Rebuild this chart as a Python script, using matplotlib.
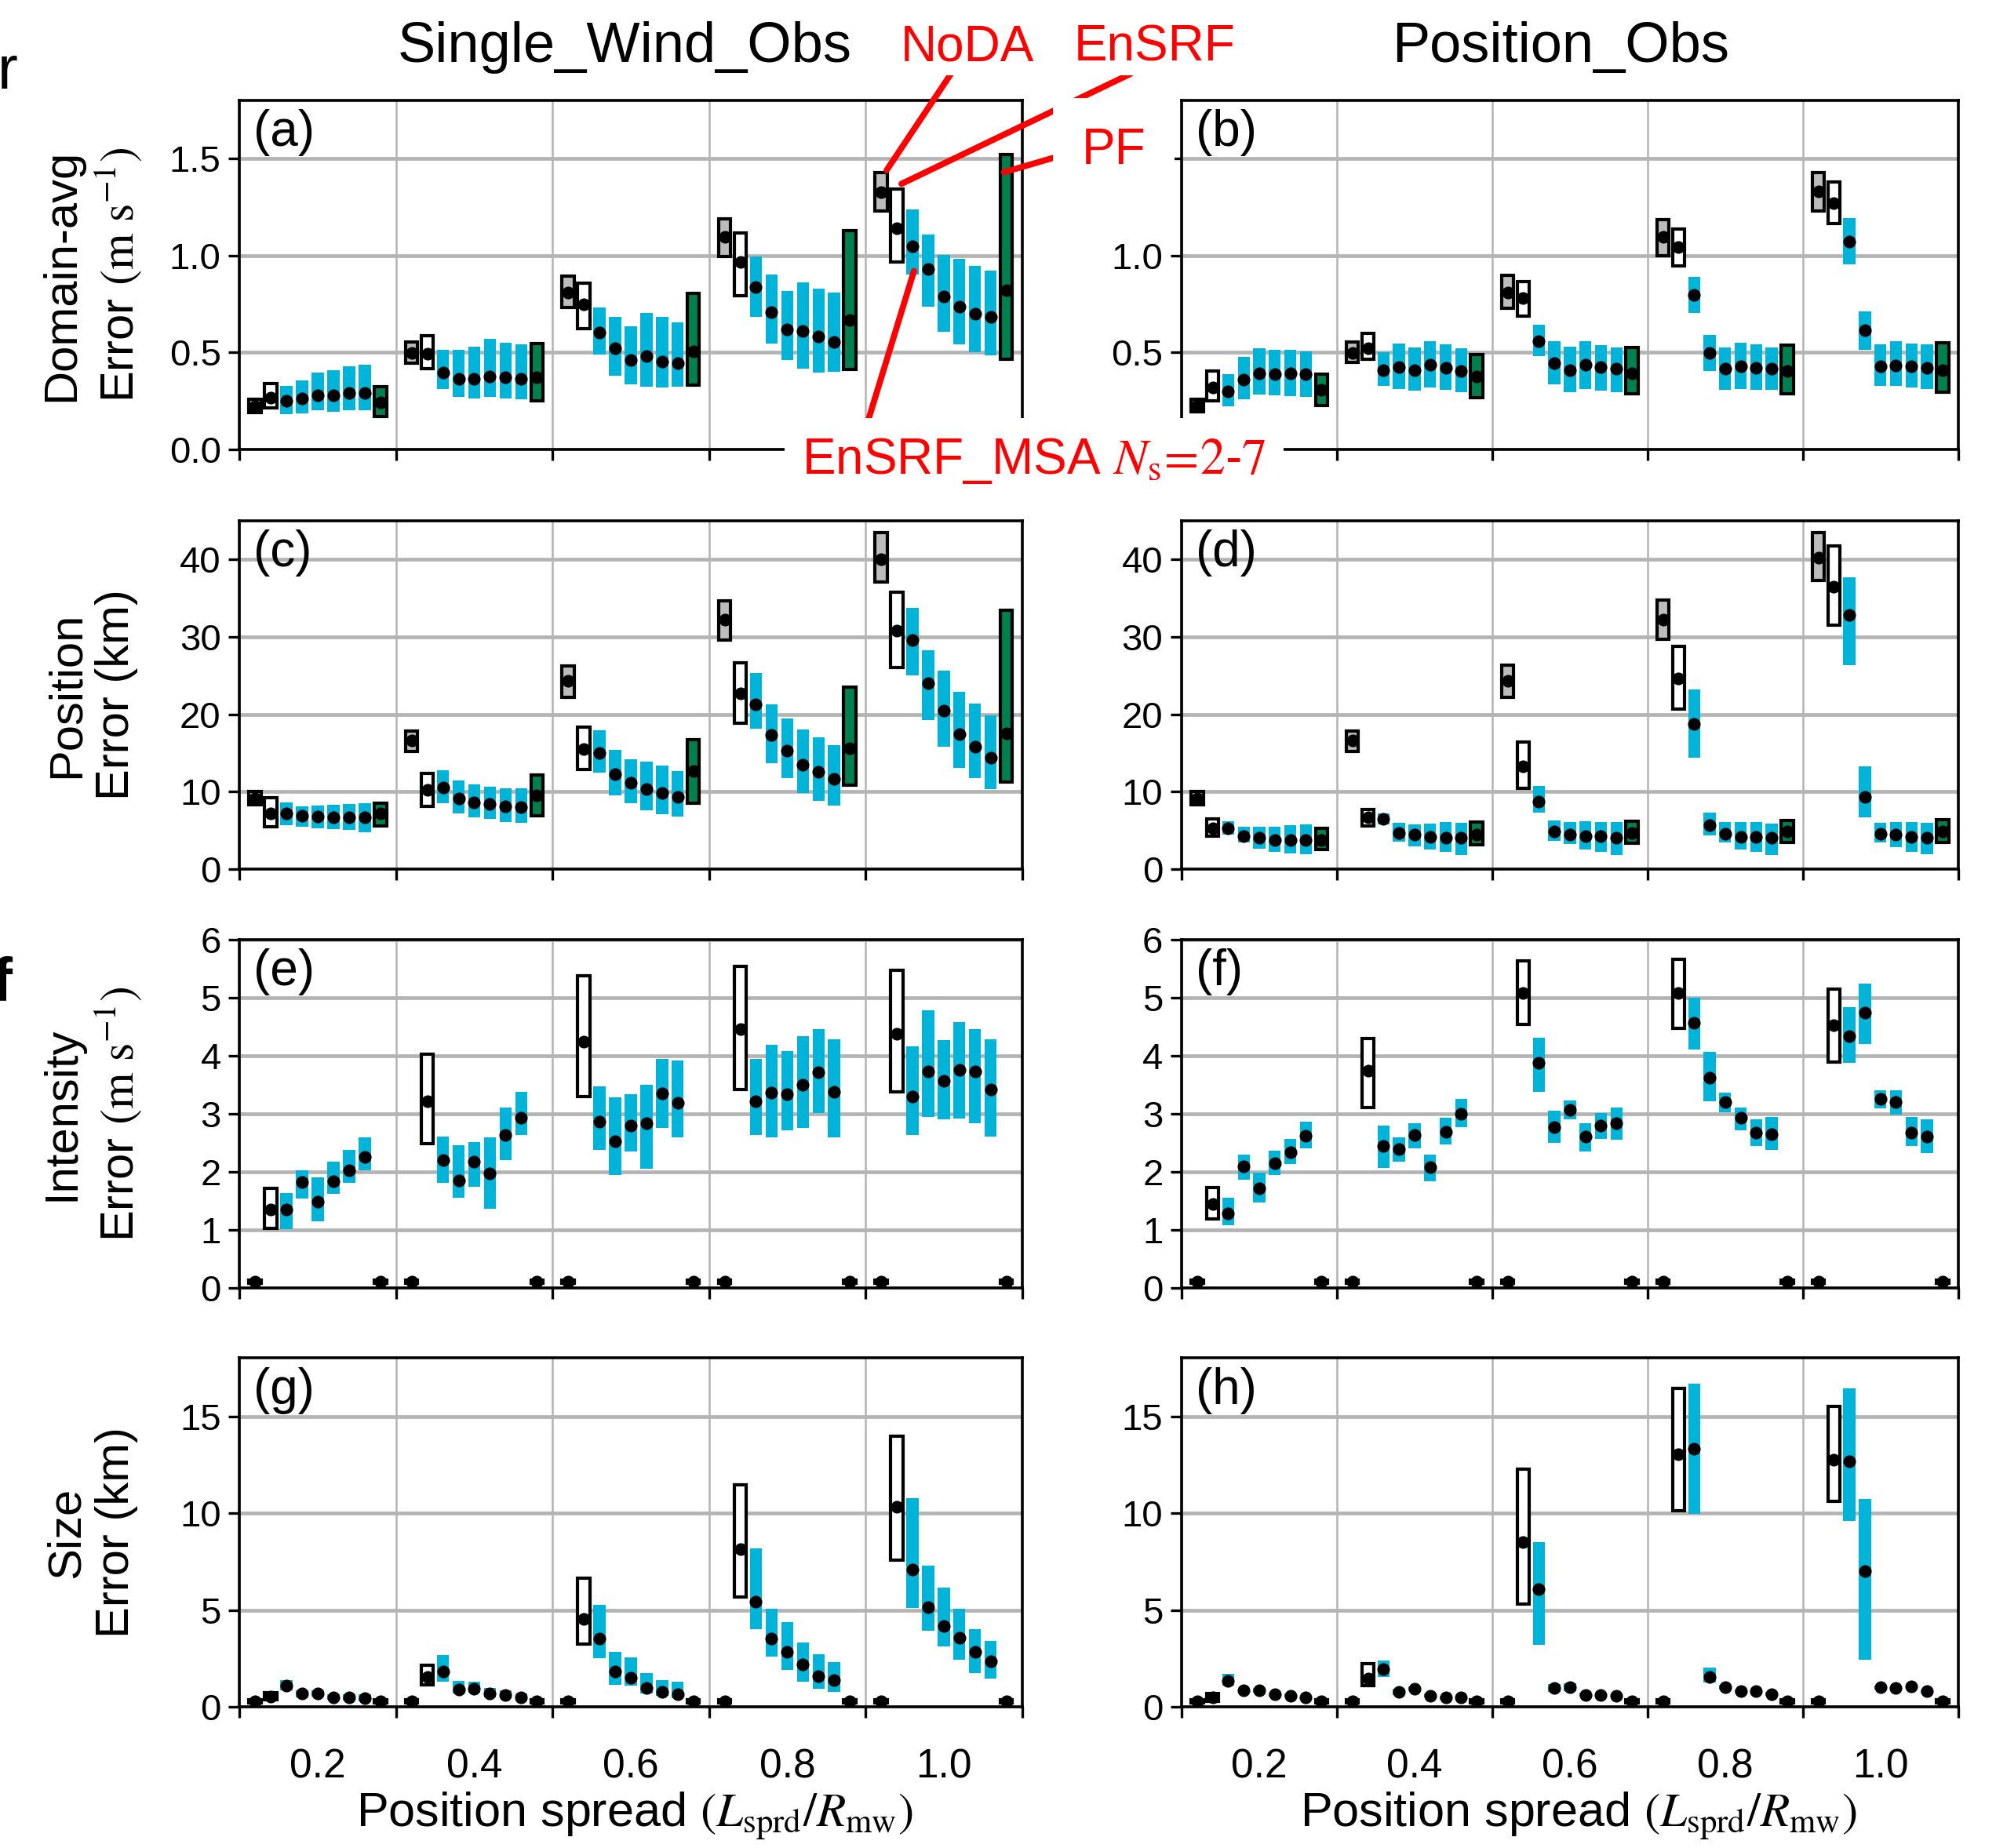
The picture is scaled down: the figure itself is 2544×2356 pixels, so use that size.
"""
plot.py - error summary of EnSRF / EnSRF_MSA / PF versus position spread.
"""

import numpy as np
import matplotlib
matplotlib.use("Agg")
import matplotlib.pyplot as plt

plt.rcParams["font.family"] = ["Liberation Sans", "DejaVu Sans"]
plt.rcParams["mathtext.fontset"] = "stix"


# ---------------------------------------------------------------------------
# Data (one row per position spread; slots: NoDA, EnSRF, MSA Ns=2..7, PF)
# ---------------------------------------------------------------------------

spreads = [0.2, 0.4, 0.6, 0.8, 1.0]
spread_labels = ["0.2", "0.4", "0.6", "0.8", "1.0"]
methods = ["NoDA", "EnSRF", "Ns2", "Ns3", "Ns4", "Ns5", "Ns6", "Ns7", "PF"]

# (a) domain-avg error, Single_Wind_Obs
a_mean = [[0.221, 0.268, 0.249, 0.263, 0.278, 0.278, 0.289, 0.291, 0.240],
          [0.498, 0.492, 0.394, 0.365, 0.362, 0.376, 0.371, 0.365, 0.371],
          [0.807, 0.747, 0.603, 0.520, 0.461, 0.479, 0.453, 0.445, 0.507],
          [1.098, 0.968, 0.838, 0.708, 0.620, 0.611, 0.580, 0.554, 0.668],
          [1.327, 1.141, 1.048, 0.932, 0.789, 0.736, 0.700, 0.685, 0.820]]
a_lo = [[0.190, 0.213, 0.182, 0.186, 0.200, 0.195, 0.201, 0.201, 0.167],
        [0.445, 0.418, 0.309, 0.272, 0.264, 0.271, 0.264, 0.260, 0.252],
        [0.730, 0.623, 0.490, 0.380, 0.337, 0.322, 0.317, 0.322, 0.332],
        [0.994, 0.793, 0.685, 0.546, 0.461, 0.414, 0.394, 0.399, 0.411],
        [1.229, 0.968, 0.901, 0.736, 0.608, 0.541, 0.503, 0.484, 0.465]]
a_hi = [[0.257, 0.339, 0.325, 0.356, 0.396, 0.408, 0.427, 0.436, 0.322],
        [0.554, 0.588, 0.513, 0.513, 0.530, 0.571, 0.551, 0.543, 0.546],
        [0.894, 0.857, 0.733, 0.685, 0.636, 0.705, 0.682, 0.656, 0.804],
        [1.188, 1.118, 0.993, 0.901, 0.816, 0.861, 0.827, 0.809, 1.129],
        [1.430, 1.345, 1.237, 1.110, 1.002, 0.983, 0.948, 0.922, 1.520]]

# (b) domain-avg error, Position_Obs
b_mean = [[0.226, 0.319, 0.298, 0.360, 0.391, 0.388, 0.391, 0.388, 0.306],
          [0.495, 0.523, 0.407, 0.425, 0.407, 0.435, 0.422, 0.404, 0.376],
          [0.809, 0.781, 0.558, 0.445, 0.407, 0.438, 0.425, 0.414, 0.391],
          [1.095, 1.045, 0.796, 0.495, 0.414, 0.430, 0.422, 0.414, 0.404],
          [1.330, 1.270, 1.072, 0.615, 0.427, 0.433, 0.430, 0.422, 0.407]]
b_lo = [[0.193, 0.252, 0.221, 0.260, 0.283, 0.278, 0.275, 0.272, 0.226],
        [0.448, 0.464, 0.325, 0.309, 0.302, 0.317, 0.306, 0.294, 0.268],
        [0.728, 0.688, 0.479, 0.334, 0.294, 0.309, 0.302, 0.294, 0.286],
        [0.999, 0.945, 0.705, 0.404, 0.306, 0.311, 0.306, 0.306, 0.288],
        [1.231, 1.164, 0.956, 0.515, 0.326, 0.326, 0.317, 0.309, 0.295]]
b_hi = [[0.260, 0.402, 0.388, 0.476, 0.523, 0.515, 0.513, 0.504, 0.387],
        [0.554, 0.600, 0.503, 0.546, 0.526, 0.558, 0.543, 0.523, 0.489],
        [0.897, 0.867, 0.643, 0.558, 0.530, 0.558, 0.538, 0.526, 0.527],
        [1.184, 1.138, 0.891, 0.589, 0.527, 0.551, 0.541, 0.527, 0.538],
        [1.427, 1.378, 1.195, 0.713, 0.543, 0.558, 0.546, 0.543, 0.551]]

# (c) position error, Single_Wind_Obs
c_mean = [[9.17, 7.25, 7.25, 6.90, 6.80, 6.75, 6.70, 6.75, 7.18],
          [16.58, 10.20, 10.60, 9.10, 8.66, 8.43, 8.16, 8.02, 9.50],
          [24.33, 15.50, 15.00, 12.23, 11.19, 10.35, 9.88, 9.37, 12.64],
          [32.19, 22.75, 21.30, 17.29, 15.34, 13.48, 12.57, 11.63, 15.57],
          [40.04, 30.77, 29.59, 24.00, 20.46, 17.39, 15.84, 14.39, 17.53]]
c_lo = [[8.36, 5.50, 5.73, 5.53, 5.33, 5.22, 5.06, 4.82, 5.56],
        [15.17, 8.16, 8.50, 7.25, 6.67, 6.47, 6.13, 5.97, 6.88],
        [22.24, 12.90, 12.47, 9.50, 8.50, 7.58, 7.15, 6.84, 8.56],
        [29.60, 18.87, 18.10, 13.65, 11.80, 9.84, 8.86, 8.19, 10.89],
        [37.07, 26.02, 25.04, 19.21, 15.84, 13.04, 11.80, 10.38, 11.29]]
c_hi = [[10.00, 9.20, 8.66, 8.16, 8.26, 8.36, 8.46, 8.56, 8.53],
        [17.86, 12.37, 12.80, 11.46, 11.00, 10.68, 10.45, 10.45, 12.13],
        [26.29, 18.37, 17.93, 15.44, 14.22, 13.92, 13.41, 12.71, 16.75],
        [34.65, 26.69, 25.35, 21.30, 19.48, 18.03, 17.05, 16.00, 23.49],
        [43.48, 35.79, 33.70, 28.24, 25.62, 22.92, 21.37, 19.89, 33.47]]

# (d) position error, Position_Obs
d_mean = [[9.17, 5.33, 5.29, 4.31, 4.04, 3.81, 3.81, 3.77, 3.77],
          [16.58, 6.67, 6.50, 4.65, 4.45, 4.21, 4.04, 4.04, 4.48],
          [24.33, 13.25, 8.76, 4.89, 4.48, 4.28, 4.28, 4.04, 4.72],
          [32.19, 24.67, 18.77, 5.73, 4.55, 4.21, 4.15, 4.04, 4.89],
          [40.18, 36.50, 32.86, 9.34, 4.62, 4.45, 4.21, 4.11, 4.89]]
d_lo = [[8.33, 4.28, 4.45, 3.44, 2.70, 2.26, 2.02, 1.92, 2.53],
        [15.17, 5.63, 5.83, 3.54, 2.93, 2.53, 2.26, 1.85, 3.13],
        [22.24, 10.45, 7.35, 3.71, 3.27, 2.53, 2.26, 1.85, 3.37],
        [29.66, 20.63, 14.39, 4.38, 3.44, 2.53, 2.26, 1.85, 3.47],
        [37.24, 31.51, 26.39, 6.67, 3.47, 2.86, 2.26, 1.92, 3.44]]
d_hi = [[10.00, 6.47, 6.20, 5.53, 5.53, 5.53, 5.73, 5.83, 5.33],
        [17.86, 7.75, 7.21, 6.00, 5.80, 5.90, 6.13, 6.00, 6.07],
        [26.36, 16.45, 10.79, 6.34, 6.07, 6.24, 6.13, 6.07, 6.24],
        [34.71, 28.75, 23.19, 7.31, 6.07, 6.13, 6.13, 5.90, 6.30],
        [43.48, 41.73, 37.65, 13.31, 6.00, 6.13, 6.13, 6.00, 6.40]]

# (e) intensity error, Single_Wind_Obs
e_mean = [[0.11, 1.35, 1.35, 1.82, 1.48, 1.84, 2.02, 2.25, 0.11],
          [0.11, 3.21, 2.20, 1.85, 2.17, 1.97, 2.63, 2.93, 0.11],
          [0.11, 4.24, 2.86, 2.53, 2.80, 2.83, 3.35, 3.19, 0.11],
          [0.11, 4.45, 3.22, 3.36, 3.34, 3.50, 3.71, 3.38, 0.11],
          [0.11, 4.38, 3.29, 3.73, 3.57, 3.75, 3.73, 3.41, 0.11]]
e_lo = [[0.08, 1.03, 1.02, 1.54, 1.15, 1.62, 1.81, 2.03, 0.08],
        [0.08, 2.49, 1.81, 1.56, 1.74, 1.37, 2.20, 2.63, 0.08],
        [0.08, 3.30, 2.38, 1.94, 2.35, 2.05, 2.76, 2.59, 0.08],
        [0.08, 3.42, 2.64, 2.59, 2.72, 2.76, 3.01, 2.59, 0.08],
        [0.08, 3.37, 2.64, 2.95, 2.90, 2.92, 2.83, 2.60, 0.08]]
e_hi = [[0.14, 1.71, 1.64, 2.03, 1.90, 2.18, 2.38, 2.59, 0.14],
        [0.14, 4.02, 2.61, 2.46, 2.51, 2.59, 3.10, 3.38, 0.14],
        [0.14, 5.37, 3.47, 3.28, 3.34, 3.50, 3.94, 3.91, 0.14],
        [0.14, 5.54, 3.94, 4.18, 4.08, 4.33, 4.46, 4.28, 0.14],
        [0.14, 5.47, 4.16, 4.78, 4.27, 4.58, 4.46, 4.28, 0.14]]

# (f) intensity error, Position_Obs
f_mean = [[0.11, 1.45, 1.29, 2.09, 1.72, 2.15, 2.34, 2.62, 0.11],
          [0.11, 3.74, 2.45, 2.39, 2.63, 2.08, 2.69, 3.00, 0.11],
          [0.11, 5.08, 3.88, 2.77, 3.07, 2.60, 2.80, 2.84, 0.11],
          [0.11, 5.08, 4.57, 3.62, 3.20, 2.93, 2.68, 2.65, 0.11],
          [0.11, 4.52, 4.33, 4.74, 3.26, 3.20, 2.68, 2.60, 0.11]]
f_lo = [[0.08, 1.19, 1.08, 1.87, 1.47, 1.94, 2.13, 2.41, 0.08],
        [0.08, 3.11, 2.07, 2.17, 2.41, 1.84, 2.47, 2.77, 0.08],
        [0.08, 4.54, 3.37, 2.50, 2.91, 2.35, 2.56, 2.55, 0.08],
        [0.08, 4.47, 4.11, 3.21, 3.03, 2.71, 2.44, 2.38, 0.08],
        [0.08, 3.89, 3.87, 4.20, 3.09, 2.99, 2.44, 2.32, 0.08]]
f_hi = [[0.14, 1.73, 1.56, 2.29, 1.99, 2.37, 2.57, 2.86, 0.14],
        [0.14, 4.30, 2.80, 2.59, 2.83, 2.30, 2.93, 3.26, 0.14],
        [0.14, 5.63, 4.31, 3.05, 3.23, 2.83, 3.01, 3.11, 0.14],
        [0.14, 5.65, 5.00, 4.06, 3.36, 3.10, 2.90, 2.95, 0.14],
        [0.14, 5.14, 4.83, 5.24, 3.40, 3.40, 2.95, 2.91, 0.14]]

# (g) size error, Single_Wind_Obs
g_mean = [[0.30, 0.54, 1.08, 0.67, 0.67, 0.50, 0.50, 0.46, 0.30],
          [0.30, 1.54, 1.82, 0.88, 0.94, 0.67, 0.61, 0.50, 0.30],
          [0.30, 4.55, 3.54, 1.82, 1.51, 0.97, 0.77, 0.63, 0.30],
          [0.30, 8.12, 5.43, 3.54, 2.82, 2.19, 1.58, 1.38, 0.30],
          [0.30, 10.31, 7.09, 5.16, 4.18, 3.56, 2.83, 2.36, 0.30]]
g_lo = [[0.22, 0.36, 0.86, 0.50, 0.54, 0.36, 0.34, 0.30, 0.22],
        [0.22, 1.13, 1.31, 0.67, 0.73, 0.50, 0.43, 0.34, 0.22],
        [0.22, 3.23, 2.52, 1.15, 1.11, 0.70, 0.57, 0.46, 0.22],
        [0.22, 5.65, 4.01, 2.59, 1.92, 1.31, 0.94, 0.77, 0.22],
        [0.22, 7.56, 5.11, 3.94, 3.13, 2.43, 1.75, 1.47, 0.22]]
g_hi = [[0.38, 0.73, 1.38, 0.84, 0.84, 0.63, 0.63, 0.63, 0.38],
        [0.38, 2.16, 2.66, 1.35, 1.31, 0.97, 0.84, 0.70, 0.38],
        [0.38, 6.64, 5.26, 2.82, 2.55, 1.74, 1.38, 1.30, 0.38],
        [0.38, 11.46, 8.16, 5.06, 4.37, 3.32, 2.70, 2.29, 0.38],
        [0.38, 13.97, 10.76, 7.29, 6.14, 5.06, 4.01, 3.40, 0.38]]

# (h) size error, Position_Obs
h_mean = [[0.30, 0.47, 1.35, 0.84, 0.86, 0.63, 0.57, 0.50, 0.30],
          [0.30, 1.47, 1.94, 0.77, 0.93, 0.57, 0.47, 0.47, 0.30],
          [0.30, 8.49, 6.06, 0.97, 1.01, 0.61, 0.59, 0.57, 0.30],
          [0.30, 13.05, 13.32, 1.55, 1.01, 0.80, 0.80, 0.66, 0.30],
          [0.30, 12.74, 12.69, 7.02, 1.00, 0.97, 1.07, 0.80, 0.30]]
h_lo = [[0.22, 0.30, 1.08, 0.72, 0.74, 0.52, 0.47, 0.40, 0.22],
        [0.22, 1.11, 1.54, 0.61, 0.80, 0.47, 0.37, 0.37, 0.22],
        [0.22, 5.29, 3.20, 0.77, 0.81, 0.51, 0.49, 0.47, 0.22],
        [0.22, 10.11, 9.97, 1.27, 0.89, 0.70, 0.70, 0.56, 0.22],
        [0.22, 10.59, 9.61, 2.43, 0.90, 0.87, 0.97, 0.70, 0.22]]
h_hi = [[0.38, 0.67, 1.69, 0.97, 0.98, 0.74, 0.67, 0.60, 0.38],
        [0.38, 2.21, 2.39, 0.93, 1.06, 0.67, 0.57, 0.57, 0.38],
        [0.38, 12.28, 8.49, 1.17, 1.21, 0.71, 0.69, 0.67, 0.38],
        [0.38, 16.42, 16.67, 2.02, 1.13, 0.90, 0.90, 0.76, 0.38],
        [0.38, 15.51, 16.42, 10.73, 1.10, 1.07, 1.17, 0.90, 0.38]]

row_labels = ["Domain-avg\nError $(\\mathrm{m\\ s^{-1}})$",
              "Position\nError (km)",
              "Intensity\nError $(\\mathrm{m\\ s^{-1}})$",
              "Size\nError (km)"]
row_ylims = [(0, 1.8), (0, 45), (0, 6), (0, 18)]
row_yticks = [[0, 0.5, 1.0, 1.5], [0, 10, 20, 30, 40],
              [0, 1, 2, 3, 4, 5, 6], [0, 5, 10, 15]]
row_ticklabels = [["0.0", "0.5", "1.0", "1.5"], ["0", "10", "20", "30", "40"],
                  ["0", "1", "2", "3", "4", "5", "6"], ["0", "5", "10", "15"]]


# ---------------------------------------------------------------------------
# Style
# ---------------------------------------------------------------------------

GRAY = "#bcbcbc"
BLUE = "#00b3d8"
GREEN = "#00804e"
face_colors = [GRAY, "white"] + [BLUE] * 6 + [GREEN]
edge_colors = ["black", "black"] + ["none"] * 6 + ["black"]
SLOT = 0.02
BAR_W = 0.0155


def draw_panel(ax, mean, lo, hi):
    mean, lo, hi = np.array(mean), np.array(lo), np.array(hi)
    offsets = (np.arange(len(methods)) - 4) * SLOT
    for g, xc in enumerate(spreads):
        xs = xc + offsets
        ax.bar(xs, hi[g] - lo[g], bottom=lo[g], width=BAR_W,
               color=face_colors, edgecolor=edge_colors, linewidth=1.5, zorder=3)
        ax.plot(xs, mean[g], "o", color="black", ms=4.8, zorder=5)


def style_axes(ax, row, bottom):
    ax.set_xlim(0.1, 1.1)
    ax.set_ylim(*row_ylims[row])
    ax.set_yticks(row_yticks[row])
    ax.set_yticklabels(row_ticklabels[row])
    # group boundaries carry ticks + grid, group centres carry the labels
    ax.set_xticks(np.arange(0.1, 1.15, 0.2))
    ax.set_xticklabels([])
    ax.set_xticks(spreads, minor=True)
    ax.set_xticklabels(spread_labels if bottom else [], minor=True)
    ax.tick_params(axis="x", which="major", length=5, width=1.2)
    ax.tick_params(axis="x", which="minor", length=0, pad=19, labelsize=18.5)
    ax.tick_params(axis="y", length=5, width=1.2, labelsize=17)
    ax.set_axisbelow(True)
    ax.grid(axis="x", which="major", color="#b4b4b4", lw=0.9)
    ax.grid(axis="y", which="major", color="#b4b4b4", lw=1.7)
    for sp in ax.spines.values():
        sp.set_linewidth(1.3)


# ---------------------------------------------------------------------------
# Figure
# ---------------------------------------------------------------------------

fig = plt.figure(figsize=(12.72, 11.78), dpi=200)

lefts = [0.120, 0.592]
widths = [0.392, 0.389]
bottoms = [0.7569, 0.5296, 0.3030, 0.0764]
height = 0.1887

panels = [[(a_mean, a_lo, a_hi), (b_mean, b_lo, b_hi)],
          [(c_mean, c_lo, c_hi), (d_mean, d_lo, d_hi)],
          [(e_mean, e_lo, e_hi), (f_mean, f_lo, f_hi)],
          [(g_mean, g_lo, g_hi), (h_mean, h_lo, h_hi)]]
letters = "abcdefgh"

axes = {}
for r in range(4):
    for c in range(2):
        ax = fig.add_axes([lefts[c], bottoms[r], widths[c], height])
        draw_panel(ax, *panels[r][c])
        style_axes(ax, r, bottom=(r == 3))
        ax.text(0.018, 0.975, f"({letters[2 * r + c]})", transform=ax.transAxes,
                ha="left", va="top", fontsize=23, zorder=6)
        axes[(r, c)] = ax
    fig.text(0.046, bottoms[r] + height / 2, row_labels[r], rotation=90,
             ha="center", va="center", multialignment="center", fontsize=21.5)

# column titles and x labels
fig.text(0.313, 0.9745, "Single_Wind_Obs", ha="center", va="center", fontsize=26)
fig.text(0.782, 0.9745, "Position_Obs", ha="center", va="center", fontsize=26)
xlab = "Position spread $(L_\\mathrm{sprd}/R_\\mathrm{mw})$"
fig.text(0.318, 0.0175, xlab, ha="center", va="center", fontsize=22)
fig.text(0.791, 0.0175, xlab, ha="center", va="center", fontsize=22)

# clipped letters from the neighbouring figure
fig.text(0.009, 0.9607, "r", ha="right", va="center", fontsize=28)
fig.text(0.006, 0.4676, "f", ha="right", va="center", fontsize=28, fontweight="bold")

# ---------------------------------------------------------------------------
# Red annotations
# ---------------------------------------------------------------------------

ax_a = axes[(0, 0)]
box = dict(facecolor="white", edgecolor="none")
line = dict(arrowstyle="-", color="red", lw=2.8, shrinkA=0, shrinkB=0)

fig.text(0.4847, 0.9745, "NoDA", color="red", ha="center", va="center",
         fontsize=23, bbox=dict(box, pad=2))
fig.text(0.5784, 0.9745, "EnSRF", color="red", ha="center", va="center",
         fontsize=23, bbox=dict(box, pad=2))
fig.text(0.558, 0.9187, "PF", color="red", ha="center", va="center",
         fontsize=23, bbox=dict(box, pad=13))
fig.text(0.518, 0.7507, "EnSRF_MSA $N_\\mathrm{s}\\!=\\!2$-$7$", color="red",
         ha="center", va="center", fontsize=23, bbox=dict(box, pad=8))

ax_a.annotate("", xy=(0.927, 1.44), xytext=(0.4764, 0.960),
              textcoords="figure fraction", arrowprops=line, annotation_clip=False)
ax_a.annotate("", xy=(0.946, 1.37), xytext=(0.5663, 0.960),
              textcoords="figure fraction", arrowprops=line, annotation_clip=False)
ax_a.annotate("", xy=(1.077, 1.43), xytext=(0.5344, 0.9167),
              textcoords="figure fraction", arrowprops=line, annotation_clip=False)
ax_a.annotate("", xy=(0.962, 0.92), xytext=(0.435, 0.7727),
              textcoords="figure fraction", arrowprops=line, annotation_clip=False)

fig.savefig("out.png", dpi=200)
print("Saved -> out.png")
